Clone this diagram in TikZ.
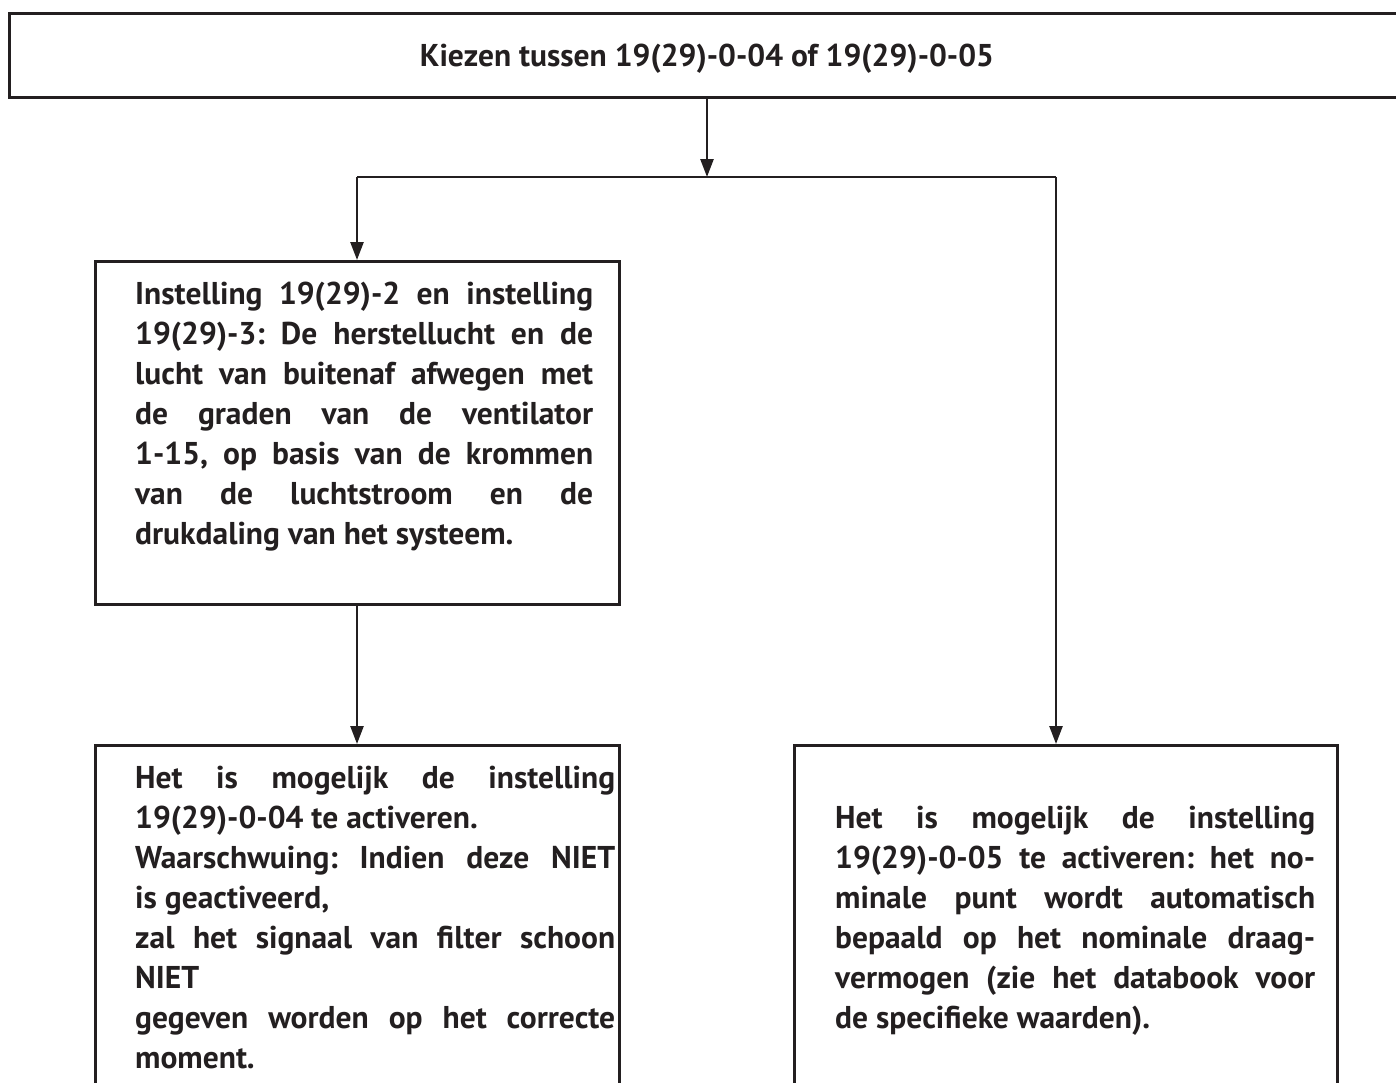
\documentclass[tikz,border=0pt]{standalone}
\usepackage{fontspec}
\setmainfont{PT Sans}
\usetikzlibrary{arrows.meta}
\definecolor{ink}{HTML}{231F20}
\newcommand\jline[2]{\makebox[#1][s]{#2}}
\newcommand\bodyfont{\fontsize{31.5}{40}\selectfont\bfseries\frenchspacing}
\begin{document}
\begin{tikzpicture}[x=1pt,y=-1pt,
  box/.style={draw=ink,line width=2.8pt,rectangle,inner sep=0pt,anchor=north west},
  arr/.style={draw=ink,line width=2.5pt,-{Triangle[length=18pt,width=13pt]}},
  conn/.style={draw=ink,line width=2.5pt},
  txt/.style={inner sep=0pt,anchor=base west,text=ink,font=\bodyfont}]
\useasboundingbox (0,0) rectangle (1396,1082);
\clip (0,0) rectangle (1396,1082);
\fill[white] (0,0) rectangle (1396,1082);
% boxes
\node[box,minimum width=1412pt,minimum height=84pt] (top) at (8,12) {};
\node[box,minimum width=524pt,minimum height=343pt] (b1) at (94,260) {};
\node[box,minimum width=524pt,minimum height=420pt] (b2) at (94,744) {};
\node[box,minimum width=543pt,minimum height=420pt] (b3) at (793,744) {};
% texts
\node[txt,anchor=base] (ttop) at (707,66) {Kiezen tussen 19(29)-0-04 of 19(29)-0-05};
\node[txt] (t1) at (135,304) {\parbox[t]{458pt}{\bodyfont
\jline{458pt}{Instelling 19(29)-2 en instelling}\\
\jline{458pt}{19(29)-3: De herstellucht en de}\\
\jline{458pt}{lucht van buitenaf afwegen met}\\
\jline{458pt}{de graden van de ventilator}\\
\jline{458pt}{1-15, op basis van de krommen}\\
\jline{458pt}{van de luchtstroom en de}\\
drukdaling van het systeem.}};
\node[txt] (t2) at (135,788) {\parbox[t]{480pt}{\bodyfont
\jline{480pt}{Het is mogelijk de instelling}\\
19(29)-0-04 te activeren.\\
\jline{480pt}{Waarschwuing: Indien deze NIET}\\
is geactiveerd,\\
\jline{480pt}{zal het signaal van filter schoon}\\
NIET\\
\jline{480pt}{gegeven worden op het correcte}\\
moment.}};
\node[txt] (t3) at (835,828) {\parbox[t]{480pt}{\bodyfont
\jline{480pt}{Het is mogelijk de instelling}\\
\jline{480pt}{19(29)-0-05 te activeren: het no-}\\
\jline{480pt}{minale punt wordt automatisch}\\
\jline{480pt}{bepaald op het nominale draag-}\\
\jline{480pt}{vermogen (zie het databook voor}\\
de specifieke waarden).}};
% connectors
\coordinate (j) at (707,177);
\coordinate (jl) at (357,177);
\coordinate (jr) at (1056,177);
\draw[arr] (top.south -| j) -- (j);
\draw[conn] (jl) -- (jr);
\draw[arr] (jl) -- (b1.north -| jl);
\draw[arr] (jr) -- (b3.north -| jr);
\draw[arr] (b1.south -| jl) -- (b2.north -| jl);
\end{tikzpicture}
\end{document}
